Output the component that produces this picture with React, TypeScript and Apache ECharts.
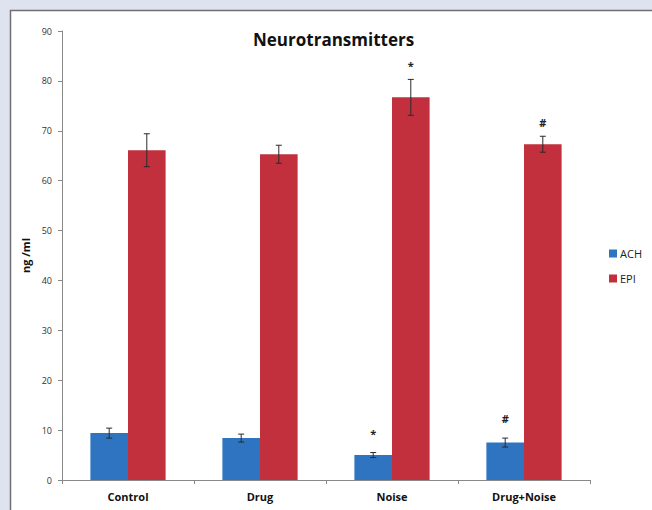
import React, { useEffect, useRef } from "react";
import * as echarts from "echarts";

const categories = ["Control", "Drug", "Noise", "Drug+Noise"];
const achValues = [9.4, 8.4, 5.0, 7.5];
const achErrors = [1.0, 0.8, 0.5, 0.9];
const epiValues = [66.1, 65.3, 76.7, 67.3];
const epiErrors = [3.3, 1.8, 3.6, 1.6];
const achMarks = ["", "", "*", "#"];
const epiMarks = ["", "", "*", "#"];
const yTicks = [0, 10, 20, 30, 40, 50, 60, 70, 80, 90];

const BLUE = "#2f74c1";
const RED = "#c1303c";
const CAT_GAP = 0.43;

function errorSeries(name: string, values: number[], errors: number[], marks: string[], side: number, markOffset: number) {
  const data = values.map((v, i) => [i, v, errors[i], marks[i]]);
  return {
    type: "custom",
    name,
    silent: true,
    z: 10,
    data,
    renderItem: (params: any, api: any) => {
      const idx = api.value(0);
      const val = api.value(1);
      const err = api.value(2);
      const mark = data[params.dataIndex][3] as string;
      const catW = api.size([1, 0])[0];
      const barW = (catW * (1 - CAT_GAP)) / 2;
      const center = api.coord([idx, val]);
      const x = center[0] + side * barW / 2;
      const top = api.coord([idx, val + err])[1];
      const bot = api.coord([idx, val - err])[1];
      const cap = 3;
      const style = { stroke: "#2a2a2a", lineWidth: 1 };
      const children: any[] = [
        { type: "line", shape: { x1: x, y1: top, x2: x, y2: bot }, style },
        { type: "line", shape: { x1: x - cap, y1: top, x2: x + cap, y2: top }, style },
        { type: "line", shape: { x1: x - cap, y1: bot, x2: x + cap, y2: bot }, style },
      ];
      if (mark) {
        children.push({
          type: "text",
          style: {
            text: mark,
            x,
            y: top - markOffset,
            align: "center",
            verticalAlign: "bottom",
            fill: "#222",
            font: "bold 11px 'Open Sans', sans-serif",
          },
        });
      }
      return { type: "group", children };
    },
  };
}

export default function App() {
  const ref = useRef<HTMLDivElement>(null);
  useEffect(() => {
    const chart = echarts.init(ref.current!, null, { renderer: "svg" });
    chart.setOption({
      animation: false,
      backgroundColor: "#dfe3f0",
      graphic: [
        {
          type: "rect",
          z: -10,
          shape: { x: 10.5, y: 10.5, width: 700, height: 600 },
          style: { fill: "#ffffff", stroke: "#707070", lineWidth: 1.5 },
        },
        {
          type: "text",
          left: 253,
          top: 31,
          style: {
            text: "Neurotransmitters",
            font: "bold 17px 'Open Sans', sans-serif",
            fill: "#111",
          },
        },
      ],
      legend: {
        orient: "vertical",
        left: 604,
        top: 243,
        itemWidth: 8,
        itemHeight: 8,
        itemGap: 14,
        icon: "rect",
        textStyle: { fontSize: 11, color: "#222", fontFamily: "'Open Sans', sans-serif", padding: [0, 0, 0, -2] },
        data: ["ACH", "EPI"],
      },
      grid: { left: 62, right: 62, top: 31, bottom: 30 },
      xAxis: {
        type: "category",
        data: categories,
        axisLine: { lineStyle: { color: "#888" } },
        axisTick: { show: true, length: 4, lineStyle: { color: "#888" } },
        axisLabel: { fontSize: 11, fontWeight: "bold", color: "#111", margin: 11, fontFamily: "'Open Sans', sans-serif" },
      },
      yAxis: {
        type: "value",
        min: 0,
        max: 90,
        interval: 10,
        name: "ng /ml",
        nameLocation: "middle",
        nameGap: 27,
        nameRotate: 90,
        nameTextStyle: { fontSize: 11, fontWeight: "bold", color: "#111", fontFamily: "'Open Sans', sans-serif" },
        axisLine: { show: true, lineStyle: { color: "#888" } },
        axisTick: { show: true, length: 4, lineStyle: { color: "#888" } },
        splitLine: { show: false },
        axisLabel: {
          fontSize: 9,
          color: "#333",
          margin: 10,
          fontFamily: "'Open Sans', sans-serif",
          formatter: (v: number) => (yTicks.includes(v) ? String(v) : ""),
        },
      },
      series: [
        { type: "bar", name: "ACH", data: achValues, itemStyle: { color: BLUE }, barGap: "0%", barCategoryGap: "43%" },
        { type: "bar", name: "EPI", data: epiValues, itemStyle: { color: RED }, barGap: "0%", barCategoryGap: "43%" },
        errorSeries("achErr", achValues, achErrors, achMarks, -1, 14),
        errorSeries("epiErr", epiValues, epiErrors, epiMarks, 1, 8),
      ],
    });
    return () => chart.dispose();
  }, []);
  return <div ref={ref} style={{ position: "absolute", left: 0, top: 0, width: 652, height: 510 }} />;
}
